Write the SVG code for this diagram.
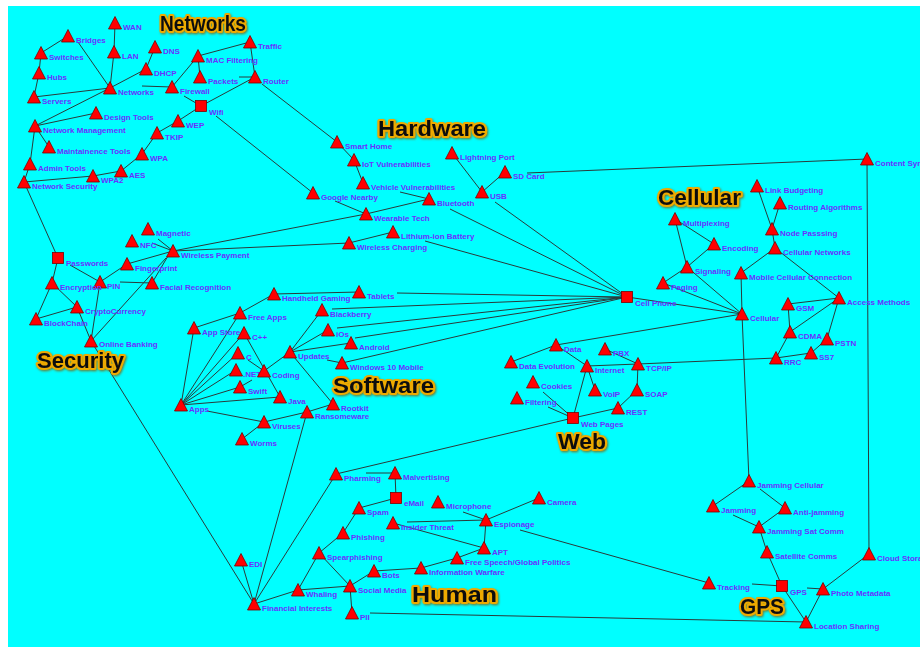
<svg xmlns="http://www.w3.org/2000/svg" xmlns:xlink="http://www.w3.org/1999/xlink" width="920" height="647" viewBox="0 0 920 647">
<style>
.e line{stroke:#2a3a3a;stroke-width:1;fill:none}
.t{fill:#ff0000;stroke:#7a0000;stroke-width:0.8}
.l{font-family:"Liberation Sans",Arial,sans-serif;font-size:8px;font-weight:bold;fill:#6a30ff}
.h{font-family:"Liberation Sans",Arial,sans-serif;font-size:21.5px;font-weight:bold;fill:#111;stroke:#eeaa00;stroke-width:4;stroke-linejoin:round;paint-order:stroke;filter:url(#glow)}
</style>
<defs>
<path id="tri" class="t" d="M0,-6.5 L6.5,6 L-6.5,6 Z"/>
<rect id="sq" class="t" x="-5.5" y="-5.5" width="11" height="11"/>
<filter id="glow" x="-10%" y="-20%" width="120%" height="150%"><feDropShadow dx="1" dy="1.2" stdDeviation="0.9" flood-color="#8a5a00" flood-opacity="0.8"/></filter>
</defs>
<rect x="0" y="0" width="920" height="647" fill="#ffffff"/>
<rect x="8" y="6" width="912" height="641" fill="#00ffff"/>
<g id="edges" class="e">
<line x1="115" y1="23" x2="114" y2="52"/>
<line x1="114" y1="52" x2="110" y2="88"/>
<line x1="68" y1="36" x2="41" y2="53"/>
<line x1="78" y1="42" x2="110" y2="88"/>
<line x1="41" y1="53" x2="39" y2="73"/>
<line x1="39" y1="73" x2="34" y2="97"/>
<line x1="34" y1="97" x2="110" y2="88"/>
<line x1="155" y1="47" x2="146" y2="69"/>
<line x1="146" y1="69" x2="110" y2="88"/>
<line x1="142" y1="86" x2="172" y2="87"/>
<line x1="172" y1="87" x2="198" y2="56"/>
<line x1="198" y1="56" x2="250" y2="42"/>
<line x1="198" y1="56" x2="200" y2="77"/>
<line x1="239" y1="77" x2="255" y2="77"/>
<line x1="250" y1="42" x2="255" y2="77"/>
<line x1="184" y1="96" x2="201" y2="106"/>
<line x1="201" y1="106" x2="255" y2="77"/>
<line x1="201" y1="106" x2="178" y2="121"/>
<line x1="178" y1="121" x2="157" y2="133"/>
<line x1="157" y1="133" x2="142" y2="154"/>
<line x1="142" y1="154" x2="121" y2="171"/>
<line x1="121" y1="171" x2="93" y2="176"/>
<line x1="93" y1="176" x2="24" y2="182"/>
<line x1="35" y1="126" x2="30" y2="164"/>
<line x1="30" y1="164" x2="24" y2="182"/>
<line x1="35" y1="126" x2="110" y2="88"/>
<line x1="35" y1="126" x2="96" y2="113"/>
<line x1="35" y1="126" x2="49" y2="147"/>
<line x1="216" y1="116" x2="313" y2="193"/>
<line x1="262" y1="84" x2="337" y2="142"/>
<line x1="24" y1="182" x2="58" y2="258"/>
<line x1="337" y1="142" x2="354" y2="160"/>
<line x1="354" y1="160" x2="363" y2="183"/>
<line x1="400" y1="192" x2="429" y2="199"/>
<line x1="335" y1="201" x2="366" y2="214"/>
<line x1="366" y1="214" x2="429" y2="199"/>
<line x1="450" y1="209" x2="627" y2="297"/>
<line x1="452" y1="153" x2="482" y2="192"/>
<line x1="505" y1="172" x2="482" y2="192"/>
<line x1="527" y1="173" x2="867" y2="159"/>
<line x1="495" y1="202" x2="627" y2="297"/>
<line x1="173" y1="251" x2="366" y2="214"/>
<line x1="173" y1="251" x2="349" y2="243"/>
<line x1="349" y1="243" x2="393" y2="232"/>
<line x1="425" y1="241" x2="627" y2="297"/>
<line x1="274" y1="294" x2="359" y2="292"/>
<line x1="397" y1="293" x2="627" y2="297"/>
<line x1="332" y1="309" x2="627" y2="297"/>
<line x1="337" y1="328" x2="627" y2="297"/>
<line x1="355" y1="338" x2="627" y2="297"/>
<line x1="342" y1="363" x2="627" y2="297"/>
<line x1="290" y1="352" x2="322" y2="310"/>
<line x1="290" y1="352" x2="328" y2="330"/>
<line x1="290" y1="352" x2="351" y2="343"/>
<line x1="327" y1="360" x2="342" y2="363"/>
<line x1="290" y1="352" x2="264" y2="371"/>
<line x1="294" y1="357" x2="333" y2="404"/>
<line x1="333" y1="404" x2="307" y2="412"/>
<line x1="307" y1="412" x2="264" y2="422"/>
<line x1="207" y1="411" x2="264" y2="422"/>
<line x1="264" y1="422" x2="242" y2="439"/>
<line x1="307" y1="412" x2="254" y2="604"/>
<line x1="194" y1="328" x2="181" y2="405"/>
<line x1="194" y1="328" x2="240" y2="313"/>
<line x1="240" y1="313" x2="274" y2="294"/>
<line x1="240" y1="313" x2="181" y2="405"/>
<line x1="244" y1="333" x2="181" y2="405"/>
<line x1="244" y1="333" x2="280" y2="397"/>
<line x1="238" y1="353" x2="181" y2="405"/>
<line x1="248" y1="360" x2="264" y2="371"/>
<line x1="236" y1="370" x2="181" y2="405"/>
<line x1="252" y1="380" x2="240" y2="387"/>
<line x1="240" y1="387" x2="181" y2="405"/>
<line x1="280" y1="397" x2="181" y2="405"/>
<line x1="158" y1="239" x2="173" y2="251"/>
<line x1="152" y1="243" x2="173" y2="251"/>
<line x1="127" y1="264" x2="173" y2="251"/>
<line x1="168" y1="256" x2="152" y2="283"/>
<line x1="166" y1="258" x2="91" y2="341"/>
<line x1="100" y1="282" x2="127" y2="264"/>
<line x1="120" y1="282" x2="152" y2="283"/>
<line x1="70" y1="265" x2="100" y2="282"/>
<line x1="58" y1="258" x2="52" y2="283"/>
<line x1="52" y1="283" x2="36" y2="319"/>
<line x1="36" y1="319" x2="77" y2="307"/>
<line x1="52" y1="283" x2="77" y2="307"/>
<line x1="100" y1="282" x2="91" y2="341"/>
<line x1="77" y1="307" x2="91" y2="341"/>
<line x1="91" y1="341" x2="254" y2="604"/>
<line x1="867" y1="159" x2="869" y2="554"/>
<line x1="757" y1="186" x2="772" y2="229"/>
<line x1="780" y1="203" x2="772" y2="229"/>
<line x1="772" y1="229" x2="775" y2="248"/>
<line x1="775" y1="248" x2="741" y2="273"/>
<line x1="775" y1="248" x2="839" y2="298"/>
<line x1="741" y1="273" x2="742" y2="314"/>
<line x1="675" y1="219" x2="714" y2="244"/>
<line x1="675" y1="219" x2="687" y2="267"/>
<line x1="714" y1="244" x2="687" y2="267"/>
<line x1="687" y1="267" x2="663" y2="283"/>
<line x1="687" y1="267" x2="742" y2="314"/>
<line x1="663" y1="283" x2="742" y2="314"/>
<line x1="627" y1="297" x2="742" y2="314"/>
<line x1="742" y1="314" x2="556" y2="345"/>
<line x1="839" y1="298" x2="788" y2="304"/>
<line x1="788" y1="304" x2="790" y2="332"/>
<line x1="790" y1="332" x2="839" y2="298"/>
<line x1="839" y1="298" x2="827" y2="339"/>
<line x1="827" y1="339" x2="811" y2="353"/>
<line x1="811" y1="353" x2="776" y2="358"/>
<line x1="776" y1="358" x2="790" y2="332"/>
<line x1="776" y1="358" x2="638" y2="364"/>
<line x1="742" y1="314" x2="749" y2="481"/>
<line x1="605" y1="349" x2="638" y2="364"/>
<line x1="587" y1="366" x2="638" y2="364"/>
<line x1="556" y1="345" x2="587" y2="366"/>
<line x1="556" y1="345" x2="511" y2="362"/>
<line x1="587" y1="366" x2="595" y2="390"/>
<line x1="587" y1="366" x2="573" y2="418"/>
<line x1="548" y1="407" x2="573" y2="418"/>
<line x1="543" y1="392" x2="573" y2="418"/>
<line x1="573" y1="418" x2="618" y2="408"/>
<line x1="618" y1="408" x2="637" y2="390"/>
<line x1="637" y1="390" x2="638" y2="364"/>
<line x1="573" y1="418" x2="336" y2="474"/>
<line x1="241" y1="560" x2="254" y2="604"/>
<line x1="254" y1="604" x2="336" y2="474"/>
<line x1="254" y1="604" x2="298" y2="590"/>
<line x1="298" y1="590" x2="319" y2="553"/>
<line x1="298" y1="590" x2="350" y2="586"/>
<line x1="366" y1="473" x2="395" y2="473"/>
<line x1="395" y1="473" x2="396" y2="498"/>
<line x1="396" y1="498" x2="359" y2="508"/>
<line x1="359" y1="508" x2="343" y2="533"/>
<line x1="343" y1="533" x2="319" y2="553"/>
<line x1="319" y1="553" x2="350" y2="586"/>
<line x1="350" y1="586" x2="374" y2="571"/>
<line x1="374" y1="571" x2="421" y2="568"/>
<line x1="421" y1="568" x2="457" y2="558"/>
<line x1="457" y1="558" x2="484" y2="548"/>
<line x1="484" y1="548" x2="393" y2="523"/>
<line x1="407" y1="522" x2="486" y2="520"/>
<line x1="484" y1="548" x2="486" y2="520"/>
<line x1="463" y1="512" x2="486" y2="520"/>
<line x1="539" y1="498" x2="486" y2="520"/>
<line x1="520" y1="530" x2="709" y2="583"/>
<line x1="350" y1="586" x2="352" y2="613"/>
<line x1="370" y1="613" x2="806" y2="622"/>
<line x1="749" y1="481" x2="713" y2="506"/>
<line x1="760" y1="489" x2="785" y2="508"/>
<line x1="733" y1="515" x2="759" y2="527"/>
<line x1="785" y1="508" x2="759" y2="527"/>
<line x1="759" y1="527" x2="767" y2="552"/>
<line x1="767" y1="552" x2="782" y2="586"/>
<line x1="752" y1="584" x2="782" y2="586"/>
<line x1="807" y1="588" x2="823" y2="589"/>
<line x1="823" y1="589" x2="869" y2="554"/>
<line x1="782" y1="586" x2="806" y2="622"/>
<line x1="823" y1="589" x2="806" y2="622"/>
</g>
<g id="titles">
<text class="h" x="160" y="31" textLength="86" lengthAdjust="spacingAndGlyphs">Networks</text>
<text class="h" x="378" y="136" textLength="108" lengthAdjust="spacingAndGlyphs">Hardware</text>
<text class="h" x="658" y="205" textLength="83" lengthAdjust="spacingAndGlyphs">Cellular</text>
<text class="h" x="37" y="368" textLength="87" lengthAdjust="spacingAndGlyphs">Security</text>
<text class="h" x="333" y="393" textLength="101" lengthAdjust="spacingAndGlyphs">Software</text>
<text class="h" x="558" y="449" textLength="48" lengthAdjust="spacingAndGlyphs">Web</text>
<text class="h" x="412" y="602" textLength="85" lengthAdjust="spacingAndGlyphs">Human</text>
<text class="h" x="740" y="614" textLength="44" lengthAdjust="spacingAndGlyphs">GPS</text>
</g>
<g id="nodes" class="l">
<g id="n-wan"><use href="#tri" x="115" y="23"/><text x="123" y="30">WAN</text></g>
<g id="n-bridges"><use href="#tri" x="68" y="36"/><text x="76" y="43">Bridges</text></g>
<g id="n-switches"><use href="#tri" x="41" y="53"/><text x="49" y="60">Switches</text></g>
<g id="n-hubs"><use href="#tri" x="39" y="73"/><text x="47" y="80">Hubs</text></g>
<g id="n-servers"><use href="#tri" x="34" y="97"/><text x="42" y="104">Servers</text></g>
<g id="n-lan"><use href="#tri" x="114" y="52"/><text x="122" y="59">LAN</text></g>
<g id="n-dns"><use href="#tri" x="155" y="47"/><text x="163" y="54">DNS</text></g>
<g id="n-dhcp"><use href="#tri" x="146" y="69"/><text x="154" y="76">DHCP</text></g>
<g id="n-networks"><use href="#tri" x="110" y="88"/><text x="118" y="95">Networks</text></g>
<g id="n-firewall"><use href="#tri" x="172" y="87"/><text x="180" y="94">Firewall</text></g>
<g id="n-macfiltering"><use href="#tri" x="198" y="56"/><text x="206" y="63">MAC Filtering</text></g>
<g id="n-traffic"><use href="#tri" x="250" y="42"/><text x="258" y="49">Traffic</text></g>
<g id="n-packets"><use href="#tri" x="200" y="77"/><text x="208" y="84">Packets</text></g>
<g id="n-router"><use href="#tri" x="255" y="77"/><text x="263" y="84">Router</text></g>
<g id="n-wifi"><use href="#sq" x="201" y="106"/><text x="209" y="115">Wifi</text></g>
<g id="n-wep"><use href="#tri" x="178" y="121"/><text x="186" y="128">WEP</text></g>
<g id="n-tkip"><use href="#tri" x="157" y="133"/><text x="165" y="140">TKIP</text></g>
<g id="n-wpa"><use href="#tri" x="142" y="154"/><text x="150" y="161">WPA</text></g>
<g id="n-aes"><use href="#tri" x="121" y="171"/><text x="129" y="178">AES</text></g>
<g id="n-wpa2"><use href="#tri" x="93" y="176"/><text x="101" y="183">WPA2</text></g>
<g id="n-netsec"><use href="#tri" x="24" y="182"/><text x="32" y="189">Network Security</text></g>
<g id="n-admintools"><use href="#tri" x="30" y="164"/><text x="38" y="171">Admin Tools</text></g>
<g id="n-netmgmt"><use href="#tri" x="35" y="126"/><text x="43" y="133">Network Management</text></g>
<g id="n-maint"><use href="#tri" x="49" y="147"/><text x="57" y="154">Maintainence Tools</text></g>
<g id="n-design"><use href="#tri" x="96" y="113"/><text x="104" y="120">Design Tools</text></g>
<g id="n-smarthome"><use href="#tri" x="337" y="142"/><text x="345" y="149">Smart Home</text></g>
<g id="n-iot"><use href="#tri" x="354" y="160"/><text x="362" y="167">IoT Vulnerabilities</text></g>
<g id="n-vehicle"><use href="#tri" x="363" y="183"/><text x="371" y="190">Vehicle Vulnerabilities</text></g>
<g id="n-google"><use href="#tri" x="313" y="193"/><text x="321" y="200">Google Nearby</text></g>
<g id="n-wearable"><use href="#tri" x="366" y="214"/><text x="374" y="221">Wearable Tech</text></g>
<g id="n-bluetooth"><use href="#tri" x="429" y="199"/><text x="437" y="206">Bluetooth</text></g>
<g id="n-lightning"><use href="#tri" x="452" y="153"/><text x="460" y="160">Lightning Port</text></g>
<g id="n-usb"><use href="#tri" x="482" y="192"/><text x="490" y="199">USB</text></g>
<g id="n-sdcard"><use href="#tri" x="505" y="172"/><text x="513" y="179">SD Card</text></g>
<g id="n-lithium"><use href="#tri" x="393" y="232"/><text x="401" y="239">Lithium-ion Battery</text></g>
<g id="n-wcharging"><use href="#tri" x="349" y="243"/><text x="357" y="250">Wireless Charging</text></g>
<g id="n-contentsync"><use href="#tri" x="867" y="159"/><text x="875" y="166">Content Sync</text></g>
<g id="n-linkbudget"><use href="#tri" x="757" y="186"/><text x="765" y="193">Link Budgeting</text></g>
<g id="n-routing"><use href="#tri" x="780" y="203"/><text x="788" y="210">Routing Algorithms</text></g>
<g id="n-nodepass"><use href="#tri" x="772" y="229"/><text x="780" y="236">Node Passsing</text></g>
<g id="n-cellnets"><use href="#tri" x="775" y="248"/><text x="783" y="255">Cellular Networks</text></g>
<g id="n-mobilecell"><use href="#tri" x="741" y="273"/><text x="749" y="280">Mobile Cellular Connection</text></g>
<g id="n-multiplexing"><use href="#tri" x="675" y="219"/><text x="683" y="226">Multiplexing</text></g>
<g id="n-encoding"><use href="#tri" x="714" y="244"/><text x="722" y="251">Encoding</text></g>
<g id="n-signaling"><use href="#tri" x="687" y="267"/><text x="695" y="274">Signaling</text></g>
<g id="n-paging"><use href="#tri" x="663" y="283"/><text x="671" y="290">Paging</text></g>
<g id="n-cellphone"><use href="#sq" x="627" y="297"/><text x="635" y="306">Cell Phone</text></g>
<g id="n-cellular"><use href="#tri" x="742" y="314"/><text x="750" y="321">Cellular</text></g>
<g id="n-access"><use href="#tri" x="839" y="298"/><text x="847" y="305">Access Methods</text></g>
<g id="n-gsm"><use href="#tri" x="788" y="304"/><text x="796" y="311">GSM</text></g>
<g id="n-cdma"><use href="#tri" x="790" y="332"/><text x="798" y="339">CDMA</text></g>
<g id="n-pstn"><use href="#tri" x="827" y="339"/><text x="835" y="346">PSTN</text></g>
<g id="n-ss7"><use href="#tri" x="811" y="353"/><text x="819" y="360">SS7</text></g>
<g id="n-rrc"><use href="#tri" x="776" y="358"/><text x="784" y="365">RRC</text></g>
<g id="n-tcpip"><use href="#tri" x="638" y="364"/><text x="646" y="371">TCP/IP</text></g>
<g id="n-pbx"><use href="#tri" x="605" y="349"/><text x="613" y="356">PBX</text></g>
<g id="n-data"><use href="#tri" x="556" y="345"/><text x="564" y="352">Data</text></g>
<g id="n-dataevo"><use href="#tri" x="511" y="362"/><text x="519" y="369">Data Evolution</text></g>
<g id="n-internet"><use href="#tri" x="587" y="366"/><text x="595" y="373">Internet</text></g>
<g id="n-voip"><use href="#tri" x="595" y="390"/><text x="603" y="397">VoIP</text></g>
<g id="n-cookies"><use href="#tri" x="533" y="382"/><text x="541" y="389">Cookies</text></g>
<g id="n-filtering"><use href="#tri" x="517" y="398"/><text x="525" y="405">Filtering</text></g>
<g id="n-webpages"><use href="#sq" x="573" y="418"/><text x="581" y="427">Web Pages</text></g>
<g id="n-rest"><use href="#tri" x="618" y="408"/><text x="626" y="415">REST</text></g>
<g id="n-soap"><use href="#tri" x="637" y="390"/><text x="645" y="397">SOAP</text></g>
<g id="n-magnetic"><use href="#tri" x="148" y="229"/><text x="156" y="236">Magnetic</text></g>
<g id="n-nfc"><use href="#tri" x="132" y="241"/><text x="140" y="248">NFC</text></g>
<g id="n-wpayment"><use href="#tri" x="173" y="251"/><text x="181" y="258">Wireless Payment</text></g>
<g id="n-passwords"><use href="#sq" x="58" y="258"/><text x="66" y="266">Passwords</text></g>
<g id="n-fingerprint"><use href="#tri" x="127" y="264"/><text x="135" y="271">Fingerprint</text></g>
<g id="n-facial"><use href="#tri" x="152" y="283"/><text x="160" y="290">Facial Recognition</text></g>
<g id="n-pin"><use href="#tri" x="100" y="282"/><text x="107" y="289">PIN</text></g>
<g id="n-encryption"><use href="#tri" x="52" y="283"/><text x="60" y="290">Encryption</text></g>
<g id="n-blockchain"><use href="#tri" x="36" y="319"/><text x="44" y="326">BlockChain</text></g>
<g id="n-crypto"><use href="#tri" x="77" y="307"/><text x="85" y="314">CryptoCurrency</text></g>
<g id="n-onlinebank"><use href="#tri" x="91" y="341"/><text x="99" y="347">Online Banking</text></g>
<g id="n-handheld"><use href="#tri" x="274" y="294"/><text x="282" y="301">Handheld Gaming</text></g>
<g id="n-tablets"><use href="#tri" x="359" y="292"/><text x="367" y="299">Tablets</text></g>
<g id="n-blackberry"><use href="#tri" x="322" y="310"/><text x="330" y="317">Blackberry</text></g>
<g id="n-ios"><use href="#tri" x="328" y="330"/><text x="336" y="337">iOs</text></g>
<g id="n-android"><use href="#tri" x="351" y="343"/><text x="359" y="350">Android</text></g>
<g id="n-updates"><use href="#tri" x="290" y="352"/><text x="298" y="359">Updates</text></g>
<g id="n-win10"><use href="#tri" x="342" y="363"/><text x="350" y="370">Windows 10 Mobile</text></g>
<g id="n-rootkit"><use href="#tri" x="333" y="404"/><text x="341" y="411">Rootkit</text></g>
<g id="n-ransom"><use href="#tri" x="307" y="412"/><text x="315" y="419">Ransomeware</text></g>
<g id="n-viruses"><use href="#tri" x="264" y="422"/><text x="272" y="429">Viruses</text></g>
<g id="n-worms"><use href="#tri" x="242" y="439"/><text x="250" y="446">Worms</text></g>
<g id="n-apps"><use href="#tri" x="181" y="405"/><text x="189" y="412">Apps</text></g>
<g id="n-appstore"><use href="#tri" x="194" y="328"/><text x="202" y="335">App Store</text></g>
<g id="n-freeapps"><use href="#tri" x="240" y="313"/><text x="248" y="320">Free Apps</text></g>
<g id="n-cpp"><use href="#tri" x="244" y="333"/><text x="252" y="340">C++</text></g>
<g id="n-c"><use href="#tri" x="238" y="353"/><text x="246" y="360">C</text></g>
<g id="n-net"><use href="#tri" x="236" y="370"/><text x="243" y="377">.NET</text></g>
<g id="n-coding"><use href="#tri" x="264" y="371"/><text x="272" y="378">Coding</text></g>
<g id="n-swift"><use href="#tri" x="240" y="387"/><text x="248" y="394">Swift</text></g>
<g id="n-java"><use href="#tri" x="280" y="397"/><text x="288" y="404">Java</text></g>
<g id="n-edi"><use href="#tri" x="241" y="560"/><text x="249" y="567">EDI</text></g>
<g id="n-financial"><use href="#tri" x="254" y="604"/><text x="262" y="611">Financial Interests</text></g>
<g id="n-whaling"><use href="#tri" x="298" y="590"/><text x="306" y="597">Whaling</text></g>
<g id="n-pharming"><use href="#tri" x="336" y="474"/><text x="344" y="481">Pharming</text></g>
<g id="n-malvert"><use href="#tri" x="395" y="473"/><text x="403" y="480">Malvertising</text></g>
<g id="n-email"><use href="#sq" x="396" y="498"/><text x="404" y="506">eMail</text></g>
<g id="n-spam"><use href="#tri" x="359" y="508"/><text x="367" y="515">Spam</text></g>
<g id="n-phishing"><use href="#tri" x="343" y="533"/><text x="351" y="540">Phishing</text></g>
<g id="n-spear"><use href="#tri" x="319" y="553"/><text x="327" y="560">Spearphishing</text></g>
<g id="n-social"><use href="#tri" x="350" y="586"/><text x="358" y="593">Social Media</text></g>
<g id="n-bots"><use href="#tri" x="374" y="571"/><text x="382" y="578">Bots</text></g>
<g id="n-infowar"><use href="#tri" x="421" y="568"/><text x="429" y="575">Information Warfare</text></g>
<g id="n-freespeech"><use href="#tri" x="457" y="558"/><text x="465" y="565">Free Speech/Global Politics</text></g>
<g id="n-apt"><use href="#tri" x="484" y="548"/><text x="492" y="555">APT</text></g>
<g id="n-insider"><use href="#tri" x="393" y="523"/><text x="401" y="530">Insider Threat</text></g>
<g id="n-espionage"><use href="#tri" x="486" y="520"/><text x="494" y="527">Espionage</text></g>
<g id="n-microphone"><use href="#tri" x="438" y="502"/><text x="446" y="509">Microphone</text></g>
<g id="n-camera"><use href="#tri" x="539" y="498"/><text x="547" y="505">Camera</text></g>
<g id="n-pii"><use href="#tri" x="352" y="613"/><text x="360" y="620">PII</text></g>
<g id="n-jamcell"><use href="#tri" x="749" y="481"/><text x="757" y="488">Jamming Cellular</text></g>
<g id="n-jamming"><use href="#tri" x="713" y="506"/><text x="721" y="513">Jamming</text></g>
<g id="n-antijam"><use href="#tri" x="785" y="508"/><text x="793" y="515">Anti-jamming</text></g>
<g id="n-jamsat"><use href="#tri" x="759" y="527"/><text x="767" y="534">Jamming Sat Comm</text></g>
<g id="n-satcomms"><use href="#tri" x="767" y="552"/><text x="775" y="559">Satellite Comms</text></g>
<g id="n-gps"><use href="#sq" x="782" y="586"/><text x="790" y="595">GPS</text></g>
<g id="n-tracking"><use href="#tri" x="709" y="583"/><text x="717" y="590">Tracking</text></g>
<g id="n-photometa"><use href="#tri" x="823" y="589"/><text x="831" y="596">Photo Metadata</text></g>
<g id="n-cloud"><use href="#tri" x="869" y="554"/><text x="877" y="561">Cloud Storage</text></g>
<g id="n-location"><use href="#tri" x="806" y="622"/><text x="814" y="629">Location Sharing</text></g>
</g>
</svg>
